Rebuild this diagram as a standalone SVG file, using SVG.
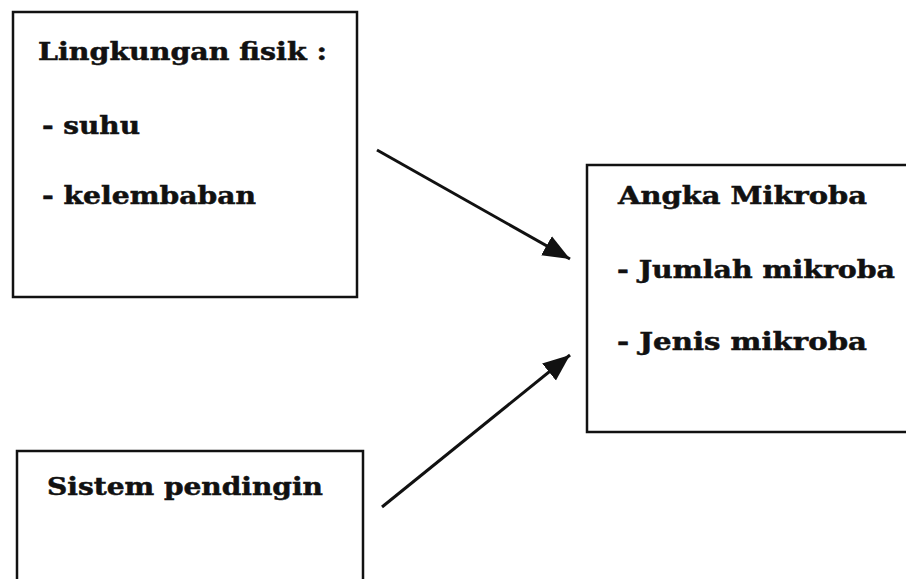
<svg xmlns="http://www.w3.org/2000/svg" width="906" height="579" viewBox="0 0 906 579">
<style>
.box{fill:#fff;stroke:#111;stroke-width:2.5}
.t{font-family:"DejaVu Serif","Liberation Serif",serif;font-weight:bold;font-size:23.5px;fill:#111;stroke:#111;stroke-width:0.5}
.c{stroke:#111;stroke-width:3;fill:none}
</style>
<defs>
<marker id="ah" markerUnits="userSpaceOnUse" markerWidth="32" markerHeight="26" refX="27" refY="11" orient="auto">
<path d="M0,0 L27,11 L0,22 Z" fill="#111"/>
</marker>
</defs>
<rect width="906" height="579" fill="#fff"/>
<g id="lingkungan">
<rect class="box" x="13" y="12" width="344" height="285"/>
<text class="t" x="38" y="60" textLength="289" lengthAdjust="spacingAndGlyphs">Lingkungan fisik :</text>
<text class="t" x="42" y="134" textLength="98" lengthAdjust="spacingAndGlyphs">- suhu</text>
<text class="t" x="42" y="204" textLength="214" lengthAdjust="spacingAndGlyphs">- kelembaban</text>
</g>
<g id="angka">
<rect class="box" x="587" y="165" width="340" height="267"/>
<text class="t" x="618" y="204" textLength="249" lengthAdjust="spacingAndGlyphs">Angka Mikroba</text>
<text class="t" x="617" y="278" textLength="278" lengthAdjust="spacingAndGlyphs">- Jumlah mikroba</text>
<text class="t" x="617" y="350" textLength="250" lengthAdjust="spacingAndGlyphs">- Jenis mikroba</text>
</g>
<g id="sistem">
<rect class="box" x="17" y="451" width="346" height="150"/>
<text class="t" x="47" y="495" textLength="276" lengthAdjust="spacingAndGlyphs">Sistem pendingin</text>
</g>
<g id="connectors">
<line class="c" x1="377" y1="150" x2="570" y2="259" marker-end="url(#ah)"/>
<line class="c" x1="382" y1="507" x2="570" y2="355" marker-end="url(#ah)"/>
</g>
</svg>
